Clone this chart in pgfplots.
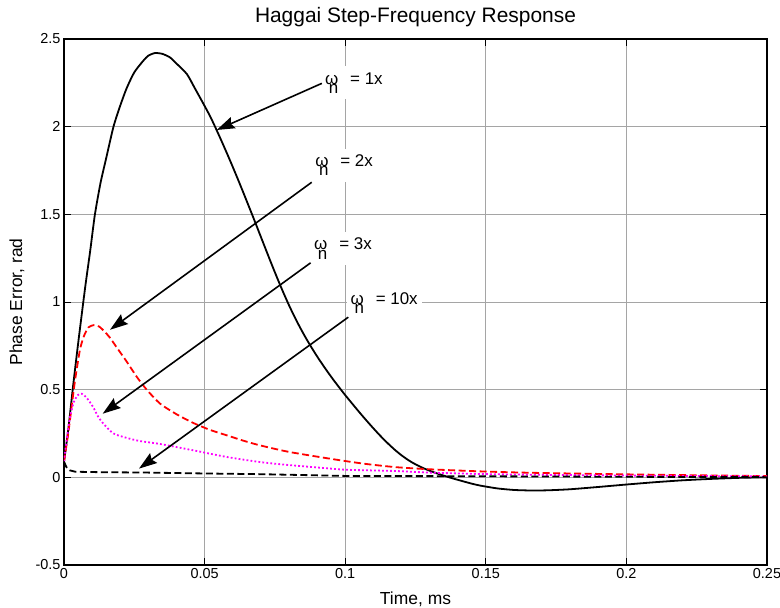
\documentclass[border=0pt]{standalone}
\usepackage{fontspec}
\setmainfont{Liberation Sans}
\usepackage{pgfplots}
\pgfplotsset{compat=1.18}
\usetikzlibrary{arrows.meta}

\definecolor{mred}{RGB}{255,0,0}
\definecolor{mmag}{RGB}{255,0,255}
\definecolor{gridc}{RGB}{165,165,165}

\newcommand{\wn}{ω\llap{\raisebox{-0.55em}{n}}\hspace{0.7em}}

\begin{document}
\begin{tikzpicture}
\begin{axis}[
 name=ax,
 scale only axis, width=703bp, height=526bp,
 xmin=0, xmax=0.25, ymin=-0.5, ymax=2.5,
 xtick={0,0.05,0.1,0.15,0.2,0.25},
 xticklabels={0,0.05,0.1,0.15,0.2,0.25},
 ytick={-0.5,0,0.5,1,1.5,2,2.5},
 yticklabels={-0.5,0,0.5,1,1.5,2,2.5},
 tick align=inside,
 major tick length=7bp,
 tick style={black, line width=0.8bp},
 axis line style={line width=1.6bp},
 grid=major,
 major grid style={gridc, line width=0.8bp},
 tick label style={font=\fontsize{14.5}{17}\selectfont},
 xlabel={Time, ms}, ylabel={Phase Error, rad},
 title={Haggai Step-Frequency Response},
 label style={font=\fontsize{17.5}{20}\selectfont},
 title style={font=\fontsize{21}{24}\selectfont, at={(axis description cs:0.5,1.0203)}, anchor=base},
 xlabel style={at={(axis description cs:0.5,-0.0760)}, anchor=base},
 ylabel style={at={(axis description cs:-0.0669,0.5)}, anchor=center},
 every axis plot/.append style={line width=1.8bp},
]
% omega_n = 1x
\addplot[black, solid, smooth, tension=0.4] coordinates {
(0,0.09) (0.0015,0.27) (0.0033,0.53) (0.005,0.76) (0.0075,1.08) (0.0093,1.29)
(0.011,1.50) (0.013,1.68) (0.015,1.82) (0.0176,2.00) (0.020,2.12) (0.0223,2.22)
(0.025,2.31) (0.0282,2.376) (0.030,2.405) (0.0324,2.42) (0.035,2.415) (0.0377,2.395)
(0.040,2.36) (0.0437,2.30) (0.0465,2.22) (0.0496,2.13) (0.052,2.058) (0.054,1.990)
(0.056,1.919) (0.058,1.846) (0.060,1.771) (0.062,1.694) (0.064,1.615) (0.066,1.535)
(0.068,1.454) (0.070,1.372) (0.072,1.290) (0.074,1.209) (0.076,1.130) (0.078,1.054)
(0.080,0.982) (0.082,0.915) (0.084,0.853) (0.086,0.795) (0.088,0.741) (0.090,0.690)
(0.092,0.642) (0.094,0.596) (0.096,0.552) (0.098,0.510) (0.100,0.469) (0.102,0.430)
(0.104,0.391) (0.106,0.353) (0.108,0.316) (0.110,0.280) (0.112,0.245) (0.114,0.212)
(0.116,0.181) (0.118,0.152) (0.120,0.126) (0.122,0.103) (0.124,0.083) (0.126,0.066)
(0.128,0.051) (0.130,0.038) (0.132,0.026) (0.134,0.015) (0.136,0.005) (0.138,-0.005)
(0.140,-0.014) (0.142,-0.023) (0.145,-0.036) (0.148,-0.047) (0.154,-0.063)
(0.160,-0.072) (0.166,-0.075) (0.172,-0.074) (0.180,-0.068) (0.190,-0.055)
(0.200,-0.041) (0.210,-0.028) (0.220,-0.017) (0.230,-0.009) (0.240,-0.003) (0.250,0.000)
};
% omega_n = 2x
\addplot[mred, dash pattern=on 7bp off 3.5bp, smooth, tension=0.4] coordinates {
(0,0.09) (0.0015,0.25) (0.0027,0.40) (0.0039,0.55) (0.0057,0.73) (0.0072,0.81)
(0.0087,0.855) (0.0105,0.868) (0.0125,0.86) (0.0145,0.83) (0.0164,0.795)
(0.019,0.735) (0.0223,0.66) (0.0258,0.575) (0.0294,0.50) (0.0342,0.42)
(0.040,0.36) (0.046,0.31) (0.052,0.27) (0.058,0.239) (0.064,0.208) (0.0698,0.182)
(0.080,0.145) (0.0947,0.106) (0.1065,0.078) (0.118,0.058) (0.130,0.046)
(0.148,0.034) (0.166,0.026) (0.200,0.017) (0.250,0.007)
};
% omega_n = 3x
\addplot[mmag, dash pattern=on 1.8bp off 2.2bp, smooth, tension=0.4] coordinates {
(0,0.09) (0.001,0.22) (0.0021,0.34) (0.0035,0.43) (0.005,0.47) (0.0063,0.477)
(0.008,0.455) (0.0104,0.40) (0.012,0.35) (0.014,0.306) (0.0176,0.25) (0.0223,0.225)
(0.027,0.207) (0.0342,0.19) (0.046,0.154) (0.0579,0.116) (0.0698,0.087) (0.080,0.07)
(0.0947,0.05) (0.1006,0.043) (0.118,0.036) (0.130,0.027) (0.148,0.019) (0.166,0.015)
(0.200,0.010) (0.250,0.005)
};
% omega_n = 10x
\addplot[black, dash pattern=on 7bp off 3.5bp] coordinates {
(0,0.09) (0.0008,0.06) (0.002,0.04) (0.004,0.032) (0.01,0.03) (0.03,0.027)
(0.05,0.022) (0.07,0.018) (0.1,0.008) (0.15,0.006) (0.2,0.003) (0.25,0.001)
};
% annotations
\tikzset{annot/.style={anchor=base west, fill=white, inner xsep=4bp, inner ysep=6bp, xshift=-4bp, font=\fontsize{17}{20}\selectfont},
         arr/.style={line width=1.6bp, -{Stealth[length=18bp, width=12bp, inset=2.5bp]}}}
\node[annot] at (axis cs:0.0928,2.243) {\wn= 1x};
\node[annot] at (axis cs:0.0893,1.772) {\wn= 2x};
\node[annot] at (axis cs:0.0889,1.297) {\wn= 3x};
\node[annot] at (axis cs:0.1019,0.986) {\wn= 10x};
\draw[arr] (axis cs:0.0917,2.247) -- (axis cs:0.0543,1.981);
\draw[arr] (axis cs:0.0881,1.683) -- (axis cs:0.01636,0.8416);
\draw[arr] (axis cs:0.0877,1.2234) -- (axis cs:0.01376,0.363);
\draw[arr] (axis cs:0.1011,0.9134) -- (axis cs:0.02667,0.0496);
\end{axis}
\pgfresetboundingbox
\path[use as bounding box] ([xshift=-64bp,yshift=-43bp]ax.south west) rectangle ([xshift=13bp,yshift=39bp]ax.north east);
\end{tikzpicture}
\end{document}
